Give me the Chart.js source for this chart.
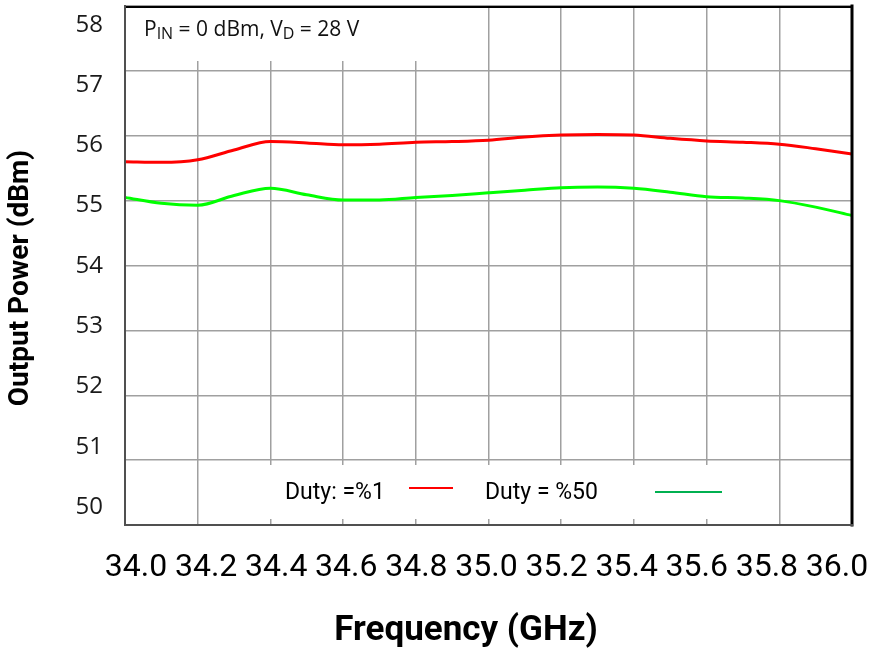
<!DOCTYPE html>
<html>
<head>
<meta charset="utf-8">
<title>Output Power vs Frequency</title>
<script src="https://cdn.jsdelivr.net/npm/chart.js@4.4.1/dist/chart.umd.min.js"></script>
<style>
  html, body { margin: 0; padding: 0; background: #fff; }
  canvas { display: block; }
</style>
</head>
<body>
<canvas id="myChart" width="872" height="655"></canvas>
<script>
'use strict';

// DATA

let frequencies = [34.0, 34.1, 34.2, 34.3, 34.4, 34.5, 34.6, 34.7, 34.8, 34.9, 35.0,
  35.1, 35.2, 35.3, 35.4, 35.5, 35.6, 35.7, 35.8, 35.9, 36.0];

let dutyOnePercent = [55.60, 55.59, 55.63, 55.78, 55.91, 55.89, 55.86, 55.87, 55.90, 55.91, 55.93,
  55.98, 56.01, 56.02, 56.01, 55.96, 55.92, 55.90, 55.87, 55.80, 55.72];

let dutyFiftyPercent = [55.05, 54.96, 54.93, 55.08, 55.19, 55.09, 55.01, 55.01, 55.05, 55.08, 55.12,
  55.16, 55.20, 55.21, 55.19, 55.13, 55.06, 55.04, 55.00, 54.90, 54.77];

let xTickLabels = [34.0, 34.2, 34.4, 34.6, 34.8, 35.0, 35.2, 35.4, 35.6, 35.8, 36.0];
let yTickLabels = [50, 51, 52, 53, 54, 55, 56, 57, 58];

let seriesNames = ['Duty: =%1', 'Duty = %50'];
let seriesColors = ['#ff0000', '#00ff00'];
let legendColors = ['#ff0000', '#00b050'];

// HELPERS

function toPoints(values) {
  let points = [];
  for (let i = 0; i < frequencies.length; i++) {
    points.push({ x: frequencies[i], y: values[i] });
  }
  return points;
}

function fixedTicks(values) {
  return function(scale) {
    scale.ticks = values.map(v => ({ value: v }));
  };
}

// fixed axis size, no extra padding for overhanging labels
function fixSize(width, height) {
  return function(scale) {
    if (width !== null) scale.width = width;
    if (height !== null) scale.height = height;
    scale.paddingTop = 0;
    scale.paddingBottom = 0;
    scale.paddingLeft = 0;
    scale.paddingRight = 0;
  };
}

// draws "P_IN = 0 dBm, V_D = 28 V" with real subscripts
function drawRichText(ctx, parts, x, y) {
  for (let i = 0; i < parts.length; i++) {
    let part = parts[i];
    ctx.font = part.sub ? '16px "Open Sans"' : '21px "Open Sans"';
    ctx.fillText(part.text, x, part.sub ? y + 3 : y);
    x += ctx.measureText(part.text).width;
  }
}

// boxes, legend, frame and axis titles drawn on top of the chart area
const decorPlugin = {
  id: 'decor',
  beforeDatasetsDraw(chart) {
    let ctx = chart.ctx;
    let a = chart.chartArea;
    ctx.save();
    ctx.fillStyle = '#ffffff';
    // note box (top left) and legend box (bottom) hide the grid
    ctx.fillRect(a.left + 1, a.top + 2, 292, 53);
    ctx.fillRect(a.left + 85, a.bottom - 60, 565, 54);
    ctx.restore();
  },
  afterDatasetsDraw(chart) {
    let ctx = chart.ctx;
    let a = chart.chartArea;
    ctx.save();

    // frame
    ctx.lineCap = 'square';
    ctx.strokeStyle = '#000000';
    ctx.lineWidth = 2;
    ctx.beginPath();
    ctx.moveTo(a.left, a.top + 1);
    ctx.lineTo(a.right, a.top + 1);
    ctx.stroke();
    ctx.lineWidth = 3;
    ctx.beginPath();
    ctx.moveTo(a.right, a.top);
    ctx.lineTo(a.right, a.bottom);
    ctx.stroke();
    ctx.strokeStyle = '#505050';
    ctx.lineWidth = 2;
    ctx.beginPath();
    ctx.moveTo(a.left, a.top);
    ctx.lineTo(a.left, a.bottom);
    ctx.lineTo(a.right, a.bottom);
    ctx.stroke();

    // note
    ctx.fillStyle = '#111111';
    ctx.textBaseline = 'alphabetic';
    ctx.textAlign = 'left';
    drawRichText(ctx, [
      { text: 'P', sub: false },
      { text: 'IN', sub: true },
      { text: ' = 0 dBm, V', sub: false },
      { text: 'D', sub: true },
      { text: ' = 28 V', sub: false }
    ], a.left + 19, a.top + 30);

    // legend: text first, line sample after it
    ctx.font = '23px Roboto';
    ctx.textBaseline = 'middle';
    let legendText = [a.left + 160, a.left + 360];
    let legendLine = [[a.left + 285, a.left + 327, a.bottom - 37], [a.left + 531, a.left + 596, a.bottom - 33]];
    for (let i = 0; i < seriesNames.length; i++) {
      ctx.fillStyle = '#000000';
      ctx.fillText(seriesNames[i], legendText[i], a.bottom - 32);
      ctx.strokeStyle = legendColors[i];
      ctx.lineWidth = 2;
      ctx.beginPath();
      ctx.moveTo(legendLine[i][0], legendLine[i][2]);
      ctx.lineTo(legendLine[i][1], legendLine[i][2]);
      ctx.stroke();
    }

    // x title
    ctx.font = 'bold 35px Roboto';
    ctx.fillStyle = '#000000';
    ctx.textAlign = 'center';
    ctx.fillText('Frequency (GHz)', a.left + 341, a.bottom + 106);

    // y title
    ctx.translate(21, a.top + 272);
    ctx.rotate(-Math.PI / 2);
    ctx.font = 'bold 28px Roboto';
    ctx.fillText('Output Power (dBm)', 0, 0);
    ctx.restore();
  }
};

// CHART

const data = {
  datasets: [
    {
      label: seriesNames[0],
      data: toPoints(dutyOnePercent),
      borderColor: seriesColors[0],
      borderWidth: 3,
      pointRadius: 0,
      tension: 0.4,
      cubicInterpolationMode: 'monotone',
      xAxisID: 'x',
      yAxisID: 'y'
    },
    {
      label: seriesNames[1],
      data: toPoints(dutyFiftyPercent),
      borderColor: seriesColors[1],
      borderWidth: 3,
      pointRadius: 0,
      tension: 0.4,
      cubicInterpolationMode: 'monotone',
      xAxisID: 'x',
      yAxisID: 'y'
    }
  ]
};

const gridStyle = { color: '#a0a0a0', lineWidth: 1.5, drawTicks: false };

const config = {
  type: 'line',
  data: data,
  plugins: [decorPlugin],
  options: {
    responsive: false,
    animation: false,
    devicePixelRatio: 1,
    layout: { padding: { top: 6, right: 20, left: 0, bottom: 0 } },
    plugins: {
      legend: { display: false },
      tooltip: { enabled: false }
    },
    scales: {
      // scales that carry the data and the grid
      x: {
        type: 'linear',
        position: 'bottom',
        min: 34,
        max: 36,
        afterBuildTicks: fixedTicks(xTickLabels),
        ticks: { display: false },
        grid: gridStyle,
        border: { display: false },
        afterFit: fixSize(null, 0)
      },
      y: {
        type: 'linear',
        position: 'left',
        min: 50,
        max: 58,
        afterBuildTicks: fixedTicks(yTickLabels),
        ticks: { display: false },
        grid: gridStyle,
        border: { display: false },
        afterFit: fixSize(0, null)
      },
      // scales that only place the tick labels, as spaced in the picture
      xLabels: {
        type: 'linear',
        position: 'bottom',
        min: 33.9686,
        max: 36.0428,
        afterBuildTicks: fixedTicks(xTickLabels),
        ticks: {
          autoSkip: false,
          maxRotation: 0,
          padding: 24,
          color: '#000000',
          font: { family: 'Roboto', size: 32 },
          callback: v => v.toFixed(1)
        },
        grid: { display: false, drawTicks: false },
        border: { display: false },
        afterFit: fixSize(null, 130)
      },
      yLabels: {
        type: 'linear',
        position: 'left',
        min: 49.705,
        max: 58.31,
        afterBuildTicks: fixedTicks(yTickLabels),
        ticks: {
          padding: 22,
          color: '#1a1a1a',
          font: { family: 'Open Sans', size: 24 }
        },
        grid: { display: false, drawTicks: false },
        border: { display: false },
        afterFit: fixSize(125, null)
      }
    }
  }
};

let canvas = document.getElementById('myChart').getContext('2d');
new Chart(canvas, config);
</script>
</body>
</html>
